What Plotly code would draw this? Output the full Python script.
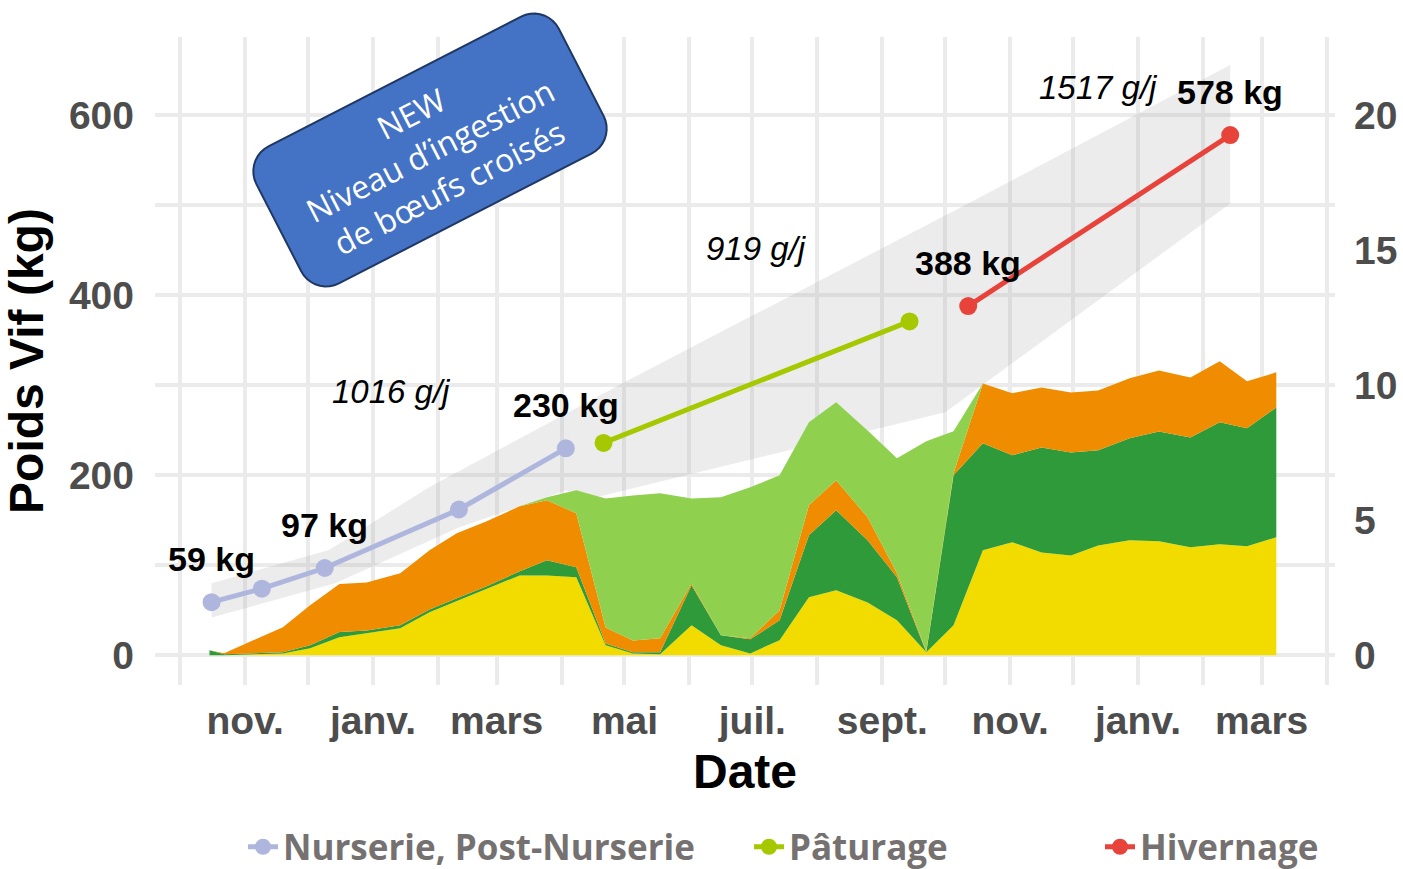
import numpy as np
import plotly.graph_objects as go

# ---------------- data ----------------
intake_dates = [
    "2021-10-15", "2021-10-22", "2021-11-19", "2021-12-02", "2021-12-16", "2021-12-29",
    "2022-01-14", "2022-01-28", "2022-02-10", "2022-02-24", "2022-03-12", "2022-03-25",
    "2022-04-08", "2022-04-22", "2022-05-05", "2022-05-18", "2022-06-02", "2022-06-16",
    "2022-06-30", "2022-07-14", "2022-07-28", "2022-08-10", "2022-08-25", "2022-09-08",
    "2022-09-22", "2022-10-05", "2022-10-19", "2022-11-02", "2022-11-16", "2022-11-30",
    "2022-12-13", "2022-12-28", "2023-01-11", "2023-01-26", "2023-02-09", "2023-02-22",
    "2023-03-08",
]
# ingestion (right axis units), stacked bottom -> top
mais = [0.00, 0.00, 0.07, 0.26, 0.67, 0.81, 1.00, 1.59, 2.00, 2.44, 2.96, 2.96,
        2.89, 0.37, 0.07, 0.04, 1.11, 0.37, 0.07, 0.56, 2.15, 2.41, 1.96, 1.30,
        0.11, 1.11, 3.89, 4.19, 3.81, 3.70, 4.07, 4.26, 4.22, 4.00, 4.11, 4.04, 4.37]
ensilage = [0.19, 0.04, 0.04, 0.11, 0.19, 0.11, 0.11, 0.11, 0.11, 0.11, 0.15, 0.56,
            0.37, 0.07, 0.04, 0.07, 1.48, 0.37, 0.52, 0.74, 2.30, 2.96, 2.30, 1.59,
            0.00, 5.56, 3.96, 3.22, 3.89, 3.81, 3.52, 3.78, 4.07, 4.07, 4.52, 4.37, 4.81]
concentre = [0.00, 0.04, 0.93, 1.48, 1.78, 1.78, 1.93, 2.19, 2.41, 2.41, 2.41, 2.22,
             2.00, 0.59, 0.44, 0.52, 0.07, 0.00, 0.04, 0.37, 1.11, 1.11, 0.85, 0.15,
             0.04, 0.07, 2.22, 2.30, 2.22, 2.22, 2.22, 2.22, 2.26, 2.22, 2.26, 1.74, 1.30]
herbe_paturee = [0.00, 0.00, 0.00, 0.00, 0.00, 0.00, 0.00, 0.00, 0.00, 0.00, 0.00, 0.11,
                 0.85, 4.78, 5.37, 5.37, 3.15, 5.11, 5.59, 5.00, 3.07, 2.89, 3.22, 4.26,
                 7.78, 1.56, 0.00, 0.00, 0.00, 0.00, 0.00, 0.00, 0.00, 0.00, 0.00, 0.00, 0.00]

nurserie_dates = ["2021-10-16", "2021-11-09", "2021-12-09", "2022-02-11", "2022-04-03"]
nurserie_kg = [59, 74, 97, 162, 230]
paturage_dates = ["2022-04-21", "2022-09-14"]
paturage_kg = [236, 371]
hivernage_dates = ["2022-10-12", "2023-02-14"]
hivernage_kg = [388, 578]

ribbon_upper_dates = ["2021-10-16", "2021-12-11", "2022-01-28", "2022-05-03", "2022-10-12", "2023-02-14"]
ribbon_upper_kg = [80, 117, 187, 306, 502, 656]
ribbon_lower_dates = ["2021-10-16", "2021-12-14", "2022-02-11", "2022-04-03", "2022-04-18", "2022-10-01", "2023-02-14"]
ribbon_lower_kg = [42, 80, 142, 183, 176, 270, 502]

gain_labels = ["1016 g/j", "919 g/j", "1517 g/j"]
gain_label_dates = ["2022-01-10", "2022-07-03", "2022-12-13"]
gain_label_kg = [293, 452, 631]

month_tick_dates = ["2021-11-01", "2022-01-01", "2022-03-01", "2022-05-01", "2022-07-01",
                    "2022-09-01", "2022-11-01", "2023-01-01", "2023-03-01"]
month_tick_labels = ["nov.", "janv.", "mars", "mai", "juil.", "sept.", "nov.", "janv.", "mars"]

# ---------------- figure ----------------
W, H = 1403, 869
ML, MR, MT, MB = 155, 68, 37, 184
PW, PH = W - ML - MR, H - MT - MB

GRID = "#EBEBEB"
TICKC = "#4D4D4D"

fig = go.Figure()

# grey ribbon
fig.add_trace(go.Scatter(
    x=ribbon_upper_dates + ribbon_lower_dates[::-1],
    y=ribbon_upper_kg + ribbon_lower_kg[::-1],
    fill="toself", fillcolor="rgba(160,160,160,0.2)", line=dict(width=0),
    mode="lines", hoverinfo="skip", showlegend=False,
))

# weight lines
phases = [
    ("Nurserie, Post-Nurserie", nurserie_dates, nurserie_kg, "#AEB6DE", "legend"),
    ("Pâturage", paturage_dates, paturage_kg, "#A6C800", "legend2"),
    ("Hivernage", hivernage_dates, hivernage_kg, "#E8433B", "legend3"),
]
for name, d, kg, col, lg in phases:
    fig.add_trace(go.Scatter(
        x=d, y=kg, mode="lines+markers", name=name, legend=lg,
        line=dict(color=col, width=5), marker=dict(color=col, size=18),
    ))

# stacked intake areas (right axis)
areas = [
    ("Maïs", mais, "#F2DC00"),
    ("Ensilage", ensilage, "#2E9A3A"),
    ("Concentré", concentre, "#F08C00"),
    ("Herbe pâturée", herbe_paturee, "#8FD14F"),
]
for name, vals, col in areas:
    fig.add_trace(go.Scatter(
        x=intake_dates, y=vals, name=name, yaxis="y2", stackgroup="ing",
        mode="lines", line=dict(width=0, color=col), fillcolor=col,
        showlegend=False, hoverinfo="skip",
    ))

annotations = []
# weight labels
for d, kg in [(nurserie_dates[0], nurserie_kg[0]), (nurserie_dates[2], nurserie_kg[2]),
              (nurserie_dates[4], nurserie_kg[4]), (hivernage_dates[0], hivernage_kg[0]),
              (hivernage_dates[1], hivernage_kg[1])]:
    annotations.append(dict(
        x=d, y=kg, xref="x", yref="y", yshift=43, showarrow=False,
        xanchor="center", yanchor="middle",
        text=f"<b>{kg} kg</b>",
        font=dict(family="Liberation Sans, Arial", size=34, color="black"),
    ))
for t, d, kg in zip(gain_labels, gain_label_dates, gain_label_kg):
    annotations.append(dict(
        x=d, y=kg, xref="x", yref="y", showarrow=False, text=f"<i>{t}</i>",
        xanchor="center", yanchor="middle",
        font=dict(family="Liberation Sans, Arial", size=33, color="black"),
    ))


def to_paper(px, py):
    return (px - ML) / PW, (MT + PH - py) / PH


# blue rotated rounded box
cx, cy, bw, bh, rad, ang = 430, 150, 340, 154, 28, np.deg2rad(27.2)
pts = []
corners = [(bw / 2 - rad, -bh / 2 + rad, -90, 0), (bw / 2 - rad, bh / 2 - rad, 0, 90),
           (-bw / 2 + rad, bh / 2 - rad, 90, 180), (-bw / 2 + rad, -bh / 2 + rad, 180, 270)]
for ox, oy, a0, a1 in corners:
    for a in np.linspace(np.deg2rad(a0), np.deg2rad(a1), 10):
        lx, ly = ox + rad * np.cos(a), oy + rad * np.sin(a)
        sx = cx + lx * np.cos(ang) + ly * np.sin(ang)
        sy = cy - lx * np.sin(ang) + ly * np.cos(ang)
        pts.append(to_paper(sx, sy))
path = "M " + " L ".join(f"{p[0]:.5f},{p[1]:.5f}" for p in pts) + " Z"
shapes = [dict(type="path", xref="paper", yref="paper", path=path,
               fillcolor="#4472C4", line=dict(color="#1F3763", width=2), layer="above")]

tx, ty = to_paper(430, 150)
annotations.append(dict(
    x=tx, y=ty, xref="paper", yref="paper", showarrow=False, textangle=-27.2,
    xanchor="center", yanchor="middle",
    text="NEW<br>Niveau d’ingestion<br>de bœufs croisés", align="center",
    font=dict(family="Open Sans", size=32, color="white"),
))

leg_font = dict(family="Open Sans", size=35, color="#767171", weight="bold")
leg_y = (MT + PH - 847) / PH


def leg(px):
    return dict(x=(px - ML) / PW, y=leg_y, xanchor="left", yanchor="middle",
                orientation="h", font=leg_font, bgcolor="rgba(0,0,0,0)")


fig.update_layout(
    width=W, height=H, autosize=False,
    margin=dict(l=ML, r=MR, t=MT, b=MB, autoexpand=False),
    paper_bgcolor="white", plot_bgcolor="white",
    font=dict(family="Liberation Sans, Arial"),
    xaxis=dict(
        range=["2021-09-19", "2023-04-05"], type="date",
        tickvals=month_tick_dates, ticktext=month_tick_labels,
        tickfont=dict(size=39, color=TICKC, weight="bold"),
        showgrid=True, gridcolor=GRID, gridwidth=4, zeroline=False,
        showline=False, ticks="", ticklabelstandoff=9,
        minor=dict(dtick="M1", tick0="2021-10-01", showgrid=True, gridcolor=GRID, gridwidth=4),
        title=dict(text="<b>Date</b>", font=dict(size=48, color="black"), standoff=13),
    ),
    yaxis=dict(
        range=[-33, 687], tickvals=[0, 200, 400, 600],
        tickfont=dict(size=39, color=TICKC, weight="bold"),
        showgrid=True, gridcolor=GRID, gridwidth=4, zeroline=False,
        ticks="", ticklabelstandoff=20,
        minor=dict(dtick=100, tick0=0, showgrid=True, gridcolor=GRID, gridwidth=4),
        title=dict(text="<b>Poids Vif (kg)</b>", font=dict(size=48, color="black"), standoff=14),
    ),
    yaxis2=dict(
        range=[-33 / 30, 687 / 30], overlaying="y", side="right",
        tickvals=[0, 5, 10, 15, 20], showgrid=False, zeroline=False, ticks="",
        tickfont=dict(size=39, color=TICKC, weight="bold"), ticklabelstandoff=18,
    ),
    legend=leg(243), legend2=leg(749), legend3=leg(1100),
    annotations=annotations, shapes=shapes,
)

fig.write_html("out.html", include_plotlyjs=True, config={"displayModeBar": False},
               post_script="document.body.style.margin='0';")
